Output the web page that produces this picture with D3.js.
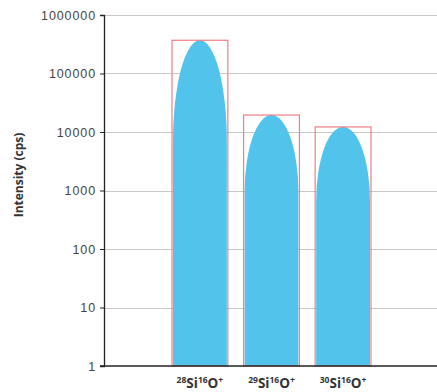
<!DOCTYPE html>
<html>
<head>
<meta charset="utf-8">
<script src="https://cdn.jsdelivr.net/npm/d3@7"></script>
<style>
  html, body { margin: 0; padding: 0; background: #fff; }
  svg { display: block; }
</style>
</head>
<body>
<svg id="chart" width="437" height="392"></svg>
<script>
// Ion species (mass number of Si, mass number of O)
const species = [
  { si: "28", o: "16" },
  { si: "29", o: "16" },
  { si: "30", o: "16" }
];
const intensities = [370000, 19500, 12200];
const yTicks = [1, 10, 100, 1000, 10000, 100000, 1000000];
const yTitle = "Intensity (cps)";

const svg = d3.select("#chart");
const margin = { left: 104, right: 0, top: 15, bottom: 26 };
const W = 437, H = 392;

const y = d3.scaleLog()
  .domain([1, 1000000])
  .range([H - margin.bottom, margin.top]);

const x = d3.scaleBand()
  .domain(d3.range(species.length))
  .range([172, 371])
  .paddingInner(0.22)
  .paddingOuter(0);

// horizontal grid lines
svg.append("g")
  .selectAll("line")
  .data(yTicks.filter(d => d > 1))
  .join("line")
  .attr("x1", margin.left)
  .attr("x2", W)
  .attr("y1", d => Math.round(y(d)) + 0.5)
  .attr("y2", d => Math.round(y(d)) + 0.5)
  .attr("stroke", "#c8c8c8")
  .attr("stroke-width", 1);

// bars: column with an elliptical cap, inside a thin outline box
const bars = svg.append("g");
species.forEach((s, i) => {
  const x0 = x(i), bw = x.bandwidth();
  const top = y(intensities[i]);
  const base = y(1);
  const h = base - top;
  const ry = h * 0.31;
  const inset = 1;
  const l = x0 + inset, r = x0 + bw - inset;
  const rx = (r - l) / 2;
  const path = `M${l},${base} L${l},${top + ry} A${rx},${ry} 0 0 1 ${r},${top + ry} L${r},${base} Z`;
  bars.append("path")
    .attr("d", path)
    .attr("fill", "#52c3ea");
  bars.append("rect")
    .attr("x", x0)
    .attr("y", top)
    .attr("width", bw)
    .attr("height", h)
    .attr("fill", "none")
    .attr("stroke", "#ee7f86")
    .attr("stroke-width", 1.2);
});

// y axis
const yAxis = d3.axisLeft(y)
  .tickValues(yTicks)
  .tickFormat(d3.format("d"))
  .tickSize(4)
  .tickPadding(4);
const gy = svg.append("g")
  .attr("transform", `translate(${margin.left},0)`)
  .call(yAxis);
gy.select(".domain").attr("stroke", "#222").attr("stroke-width", 1.3);
gy.selectAll(".tick line").attr("stroke", "#222");
gy.selectAll(".tick text")
  .attr("font-family", "Liberation Sans, Arial, sans-serif")
  .attr("font-size", 12.5)
  .attr("letter-spacing", "0.9px")
  .attr("fill", "#444");

// x axis baseline
svg.append("line")
  .attr("x1", margin.left - 4)
  .attr("x2", W)
  .attr("y1", y(1))
  .attr("y2", y(1))
  .attr("stroke", "#222")
  .attr("stroke-width", 1.3);

// category labels with superscript mass numbers
const labels = svg.append("g")
  .attr("font-family", "Open Sans, Liberation Sans, sans-serif")
  .attr("font-weight", "bold")
  .attr("fill", "#333");
species.forEach((s, i) => {
  const t = labels.append("text")
    .attr("x", x(i) + x.bandwidth() / 2)
    .attr("y", 388)
    .attr("text-anchor", "middle")
    .attr("font-size", 13.5);
  t.append("tspan").attr("font-size", 8.5).attr("dy", -5).text(s.si);
  t.append("tspan").attr("dy", 5).text("Si");
  t.append("tspan").attr("font-size", 8.5).attr("dy", -5).text(s.o);
  t.append("tspan").attr("dy", 5).text("O");
  t.append("tspan").attr("font-size", 8.5).attr("dy", -5).text("+");
});

// y axis title
svg.append("text")
  .attr("transform", `translate(23,${175}) rotate(-90)`)
  .attr("text-anchor", "middle")
  .attr("font-family", "Open Sans, Liberation Sans, sans-serif")
  .attr("font-weight", "bold")
  .attr("font-size", 12)
  .attr("fill", "#333")
  .text(yTitle);
</script>
</body>
</html>
